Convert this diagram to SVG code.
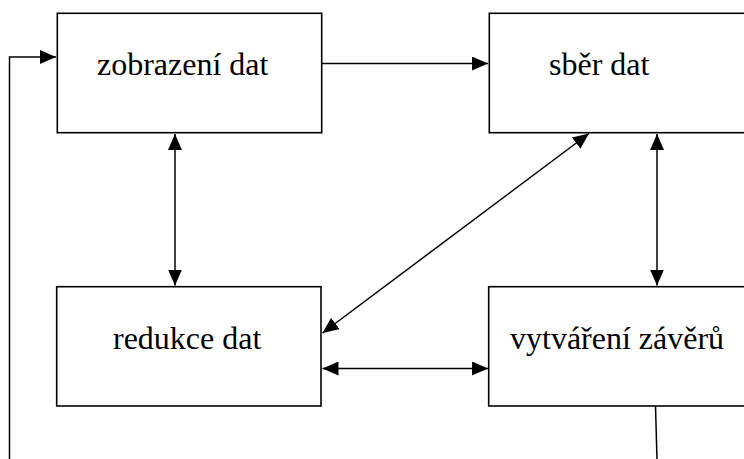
<svg xmlns="http://www.w3.org/2000/svg" width="744" height="459" viewBox="0 0 744 459">
<style>
.box{fill:#fff;stroke:#000;stroke-width:1.6}
.lbl{font-family:"Liberation Serif","Times New Roman",serif;font-size:32px;fill:#000}
.ln{stroke:#000;stroke-width:1.5;fill:none}
</style>
<defs>
<marker id="ah" markerUnits="userSpaceOnUse" markerWidth="16" markerHeight="14" refX="16" refY="7" orient="auto-start-reverse" viewBox="0 0 16 14">
<path d="M0,0 L16,7 L0,14 z" fill="#000"/>
</marker>
</defs>
<g id="connectors">
<path class="ln" d="M9.5,459 L9.5,57 L56,57" marker-end="url(#ah)"/>
<line class="ln" x1="322" y1="63.5" x2="488" y2="63.5" marker-end="url(#ah)"/>
<line class="ln" x1="175" y1="134" x2="175" y2="285.5" marker-start="url(#ah)" marker-end="url(#ah)"/>
<line class="ln" x1="657" y1="134" x2="657" y2="285.5" marker-start="url(#ah)" marker-end="url(#ah)"/>
<line class="ln" x1="589" y1="133.5" x2="322.5" y2="333" marker-start="url(#ah)" marker-end="url(#ah)"/>
<line class="ln" x1="322.5" y1="368.5" x2="488" y2="368.5" marker-start="url(#ah)" marker-end="url(#ah)"/>
<line class="ln" x1="655.5" y1="406" x2="657" y2="459"/>
</g>
<g id="n1"><rect class="box" x="57.3" y="13.3" width="264.4" height="119.4"/><text class="lbl" x="97" y="75">zobrazení dat</text></g>
<g id="n2"><rect class="box" x="489.3" y="13.3" width="264" height="119.4"/><text class="lbl" x="549" y="75">sběr dat</text></g>
<g id="n3"><rect class="box" x="56.7" y="286.7" width="264.3" height="119.3"/><text class="lbl" x="113" y="349">redukce dat</text></g>
<g id="n4"><rect class="box" x="488.7" y="286.7" width="264" height="119.3"/><text class="lbl" x="510" y="349">vytváření závěrů</text></g>
</svg>
